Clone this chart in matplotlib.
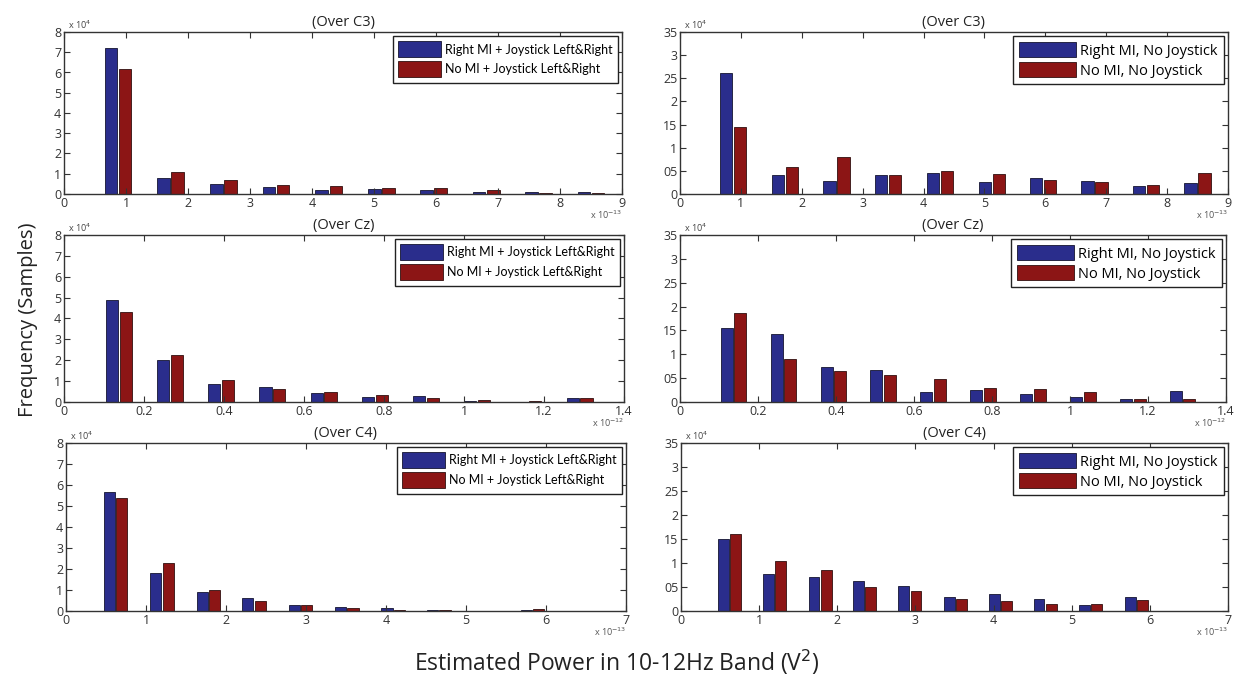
import matplotlib
matplotlib.use("Agg")
import matplotlib.pyplot as plt

# ---------------- data (counts in units of 1e4) ----------------
centers_c3 = [0.87, 1.72, 2.57, 3.42, 4.27, 5.12, 5.96, 6.81, 7.65, 8.50]          # x1e-13
centers_cz = [0.137, 0.265, 0.393, 0.521, 0.649, 0.777, 0.905, 1.033, 1.161, 1.289]  # x1e-12
centers_c4 = [0.62, 1.20, 1.78, 2.35, 2.93, 3.51, 4.09, 4.66, 5.24, 5.83]           # x1e-13

c3_right_joy = [7.2, 0.8, 0.48, 0.36, 0.18, 0.26, 0.18, 0.08, 0.1, 0.1]
c3_nomi_joy  = [6.15, 1.07, 0.7, 0.44, 0.4, 0.28, 0.3, 0.22, 0.06, 0.07]
c3_right_nojoy = [2.62, 0.4, 0.28, 0.41, 0.45, 0.26, 0.34, 0.28, 0.17, 0.23]
c3_nomi_nojoy  = [1.45, 0.58, 0.79, 0.42, 0.5, 0.44, 0.3, 0.27, 0.2, 0.46]

cz_right_joy = [4.87, 2.0, 0.86, 0.7, 0.41, 0.24, 0.27, 0.05, 0.02, 0.18]
cz_nomi_joy  = [4.33, 2.27, 1.05, 0.62, 0.46, 0.35, 0.2, 0.08, 0.05, 0.18]
cz_right_nojoy = [1.55, 1.43, 0.73, 0.68, 0.22, 0.25, 0.16, 0.11, 0.07, 0.23]
cz_nomi_nojoy  = [1.87, 0.9, 0.66, 0.57, 0.49, 0.3, 0.28, 0.22, 0.06, 0.06]

c4_right_joy = [5.65, 1.8, 0.9, 0.6, 0.29, 0.2, 0.12, 0.05, 0.0, 0.05]
c4_nomi_joy  = [5.37, 2.27, 1.0, 0.48, 0.27, 0.12, 0.05, 0.05, 0.0, 0.08]
c4_right_nojoy = [1.5, 0.77, 0.7, 0.62, 0.53, 0.3, 0.35, 0.25, 0.12, 0.3]
c4_nomi_nojoy  = [1.6, 1.05, 0.85, 0.5, 0.42, 0.26, 0.21, 0.15, 0.14, 0.23]

titles = ["(Over C3)", "(Over Cz)", "(Over C4)"]
legend_left = ["Right MI + Joystick Left&Right", "No MI + Joystick Left&Right"]
legend_right = ["Right MI, No Joystick", "No MI, No Joystick"]

xticks_c3 = [0, 1, 2, 3, 4, 5, 6, 7, 8, 9]
xticks_cz = [0, 0.2, 0.4, 0.6, 0.8, 1.0, 1.2, 1.4]
xticklabels_cz = ["0", "0.2", "0.4", "0.6", "0.8", "1", "1.2", "1.4"]
xticks_c4 = [0, 1, 2, 3, 4, 5, 6, 7]
yticks_left = [0, 1, 2, 3, 4, 5, 6, 7, 8]
yticks_right = [0, 0.5, 1, 1.5, 2, 2.5, 3, 3.5]
yticklabels_right = ["0", "05", "1", "15", "2", "25", "3", "35"]
xexp = ["-13", "-12", "-13"]

# ---------------- style ----------------
base = ["Open Sans", "DejaVu Sans"]
narrow = ["Lato", "DejaVu Sans"]
plt.rcParams["font.family"] = base

BLUE = "#2a2d8c"
RED = "#8c1515"

W, H = 1238, 675
fig = plt.figure(figsize=(W / 100, H / 100), dpi=100)

def ax_at(x0, x1, y0, y1):
    return fig.add_axes([x0 / W, 1 - y1 / H, (x1 - x0) / W, (y1 - y0) / H])

rows_y = [(32, 194), (235, 402), (443, 611)]
left_x = [(64, 622), (64, 624), (66, 626)]
right_x = [(680, 1228), (680, 1226), (681, 1228)]

row_data = [
    (centers_c3, c3_right_joy, c3_nomi_joy, c3_right_nojoy, c3_nomi_nojoy, xticks_c3, [str(v) for v in xticks_c3], 9),
    (centers_cz, cz_right_joy, cz_nomi_joy, cz_right_nojoy, cz_nomi_nojoy, xticks_cz, xticklabels_cz, 1.4),
    (centers_c4, c4_right_joy, c4_nomi_joy, c4_right_nojoy, c4_nomi_nojoy, xticks_c4, [str(v) for v in xticks_c4], 7),
]
width_frac = 0.24
offset_frac = 0.135

for r, (cent, lb, lr, rb, rr, xt, xtl, xmax) in enumerate(row_data):
    step = (cent[-1] - cent[0]) / (len(cent) - 1)
    w = width_frac * step
    off = offset_frac * step
    hpx = rows_y[r][1] - rows_y[r][0]
    for side in range(2):
        if side == 0:
            ax = ax_at(*left_x[r], *rows_y[r])
            b, rd, labs, ymax, yt, ytl = lb, lr, legend_left, 8, yticks_left, [str(v) for v in yticks_left]
            lkw = dict(prop={"family": narrow, "size": 9}, handlelength=3.4, handleheight=1.6,
                       handletextpad=0.35, labelspacing=0.3, borderpad=0.45)
        else:
            ax = ax_at(*right_x[r], *rows_y[r])
            b, rd, labs, ymax, yt, ytl = rb, rr, legend_right, 3.5, yticks_right, yticklabels_right
            lkw = dict(prop={"family": base, "size": 10.5}, handlelength=3.9, handleheight=1.2,
                       handletextpad=0.3, labelspacing=0.25, borderpad=0.4)
        ax.bar([c - off for c in cent], b, width=w, color=BLUE, edgecolor="#151530", linewidth=0.6, label=labs[0])
        ax.bar([c + off for c in cent], rd, width=w, color=RED, edgecolor="#301010", linewidth=0.6, label=labs[1])
        ax.set_xlim(0, xmax)
        ax.set_ylim(0, ymax)
        ax.set_xticks(xt)
        ax.set_xticklabels(xtl)
        ax.set_yticks(yt)
        ax.set_yticklabels(ytl)
        ax.tick_params(direction="in", top=True, right=True, length=4, width=0.8,
                       labelsize=9, colors="#333333", pad=2)
        for sp in ax.spines.values():
            sp.set_linewidth(1.0)
            sp.set_color("#333333")
        ax.set_title(titles[r], fontsize=10.5, pad=4, color="#222222")
        leg = ax.legend(loc="upper right", fancybox=False, framealpha=1,
                        edgecolor="#222222", borderaxespad=0.3, **lkw)
        leg.get_frame().set_linewidth(1.0)
        ax.text(0.008, 1.005, r"x 10$^{4}$", transform=ax.transAxes, fontsize=6.5,
                ha="left", va="bottom", color="#444444")
        ax.text(1.0, -15.0 / hpx, r"x 10$^{%s}$" % xexp[r], transform=ax.transAxes, fontsize=6.5,
                ha="right", va="top", color="#555555")

fig.text(28 / W, 1 - 320 / H, "Frequency (Samples)", rotation=90, fontsize=14.5,
         ha="center", va="center", color="#222222")
fig.text(617 / W, 1 - 662 / H, "Estimated Power in 10-12Hz Band (V$^2$)", fontsize=16.5,
         ha="center", va="center", color="#222222")

fig.savefig("out.png", dpi=100)
